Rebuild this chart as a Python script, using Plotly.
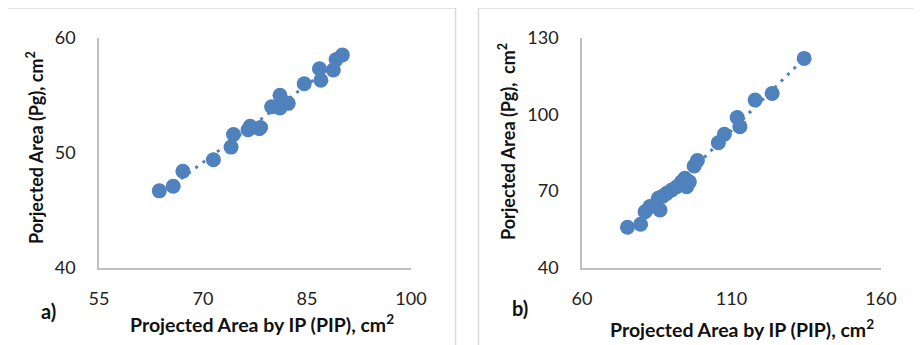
import numpy as np
import plotly.graph_objects as go

# Panel a)
a_pip = [63.7, 65.7, 67.1, 71.5, 74.05, 74.4, 76.5, 76.8, 78.3, 78.1, 79.9, 81.1, 81.1, 82.3, 84.6, 86.8, 87.0, 88.8, 89.2, 90.1]
a_pg = [46.7, 47.1, 48.4, 49.4, 50.5, 51.6, 52.0, 52.3, 52.2, 52.1, 54.0, 55.0, 53.9, 54.3, 56.0, 57.3, 56.3, 57.2, 58.1, 58.5]

# Panel b)
b_pip = [75.2, 79.6, 81.1, 82.7, 86.1, 85.5, 87.0, 88.3, 90.0, 91.7, 93.3, 94.4, 95.0, 95.9, 97.5, 98.6,
         105.6, 107.6, 111.9, 112.8, 117.9, 123.6, 134.3]
b_pg = [55.8, 57.0, 61.9, 63.9, 62.6, 67.2, 68.0, 69.1, 70.4, 71.7, 73.6, 75.0, 71.7, 73.6, 79.8, 81.9,
        88.9, 92.2, 98.8, 95.2, 105.6, 108.2, 121.9]

a_xticks = [55, 70, 85, 100]
a_yticks = [40, 50, 60]
b_xticks = [60, 110, 160]
b_yticks = [40, 70, 100, 130]

x_title = "Projected Area by IP (PIP), cm<sup>2</sup>"
ya_title = "Porjected Area (Pg), cm<sup>2</sup>"
yb_title = "Porjected Area (Pg),  cm<sup>2</sup>"

BLUE = "#4f81bd"
OFF = 8  # page body margin
W, H = 921 - OFF, 345 - OFF
FONT = "Lato"

fig = go.Figure()

def add_panel(xs, ys, xa, ya):
    xs = np.array(xs); ys = np.array(ys)
    k, b = np.polyfit(xs, ys, 1)
    tx = np.array([xs.min(), xs.max()])
    fig.add_trace(go.Scatter(x=tx, y=k * tx + b, mode="lines", xaxis=xa, yaxis=ya,
                             line=dict(color=BLUE, width=3, dash="3px,6px"), showlegend=False,
                             hoverinfo="skip"))
    fig.add_trace(go.Scatter(x=xs, y=ys, mode="markers", xaxis=xa, yaxis=ya,
                             marker=dict(color=BLUE, size=15, line=dict(width=0)), showlegend=False))

add_panel(a_pip, a_pg, "x", "y")
add_panel(b_pip, b_pg, "x2", "y2")

def px_x(p): return (p - OFF) / W
def px_y(p): return 1 - (p - OFF) / H

axis_common = dict(showgrid=False, zeroline=False, showline=True, linecolor="#bfbfbf", linewidth=1.5,
                   automargin=False,
                   ticks="", tickfont=dict(family=FONT, size=18, color="#222222"), mirror=False)

fig.update_layout(
    width=W, height=H, margin=dict(l=0, r=0, t=0, b=0),
    paper_bgcolor="white", plot_bgcolor="white",
    xaxis=dict(domain=[px_x(99), px_x(411)], range=[55, 100], tickvals=a_xticks, anchor="y",
               ticklabelstandoff=14, **axis_common),
    yaxis=dict(domain=[px_y(268), px_y(37.7)], range=[40, 60], tickvals=a_yticks, anchor="x",
               ticklabelstandoff=18, **axis_common),
    xaxis2=dict(domain=[px_x(582), px_x(881)], range=[60, 160], tickvals=b_xticks, anchor="y2",
                ticklabelstandoff=14, **axis_common),
    yaxis2=dict(domain=[px_y(267.7), px_y(37.7)], range=[40, 130], tickvals=b_yticks, anchor="x2",
                ticklabelstandoff=18, **axis_common),
)

# panel borders
fig.add_shape(type="rect", xref="paper", yref="paper", x0=px_x(6.5), x1=px_x(455.5), y0=-0.1, y1=px_y(8),
              line=dict(color="#d9d9d9", width=1.5), layer="below")
fig.add_shape(type="rect", xref="paper", yref="paper", x0=px_x(478.5), x1=1.1, y0=-0.1, y1=px_y(8),
              line=dict(color="#d9d9d9", width=1.5), layer="below")

xt_font = dict(family=FONT, size=19.5, color="#111111")
yt_font = dict(family=FONT, size=18, color="#111111")
ann = [
    dict(x=px_x(262), y=px_y(323), text="<b>" + x_title + "</b>", textangle=0, font=xt_font),
    dict(x=px_x(742), y=px_y(328), text="<b>" + x_title + "</b>", textangle=0, font=xt_font),
    dict(x=px_x(35), y=px_y(148), text="<b>" + ya_title + "</b>", textangle=-90, font=yt_font),
    dict(x=px_x(507), y=px_y(142), text="<b>" + yb_title + "</b>", textangle=-90, font=yt_font),
]
for a in ann:
    fig.add_annotation(xref="paper", yref="paper", showarrow=False, xanchor="center", yanchor="middle", **a)
fig.add_annotation(xref="paper", yref="paper", x=px_x(48), y=px_y(311), text="<b>a)</b>", showarrow=False,
                   font=dict(family=FONT, size=20, color="#111111"), xanchor="center", yanchor="middle")
fig.add_annotation(xref="paper", yref="paper", x=px_x(520), y=px_y(308), text="<b>b)</b>", showarrow=False,
                   font=dict(family=FONT, size=20, color="#111111"), xanchor="center", yanchor="middle")

fig.write_html("out.html")
